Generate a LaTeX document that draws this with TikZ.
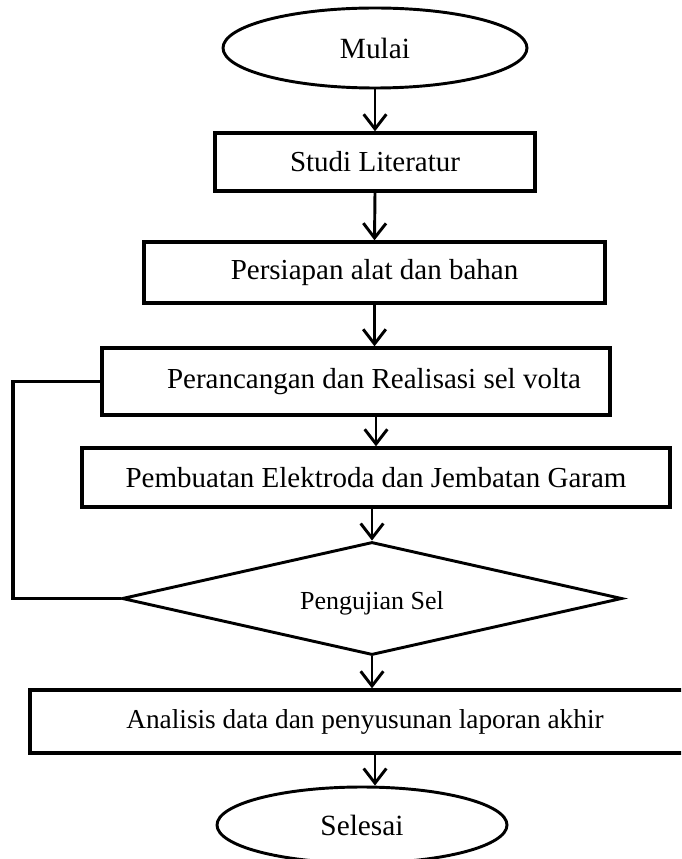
\documentclass[tikz,border=0pt]{standalone}
\usepackage{fontspec}
\setmainfont{Liberation Serif}
\usetikzlibrary{shapes.geometric,arrows.meta}
\tikzset{
  procbox/.style={draw, line width=2.5pt, rectangle, inner sep=0pt, align=center, font=\fontsize{21.75}{26}\selectfont},
  termnode/.style={draw, line width=2.2pt, ellipse, inner sep=0pt, font=\fontsize{22}{26}\selectfont},
  decnode/.style={draw, line width=2.2pt, diamond, inner sep=0pt, font=\fontsize{19.5}{23}\selectfont},
  flow/.style={line width=2.2pt, -{Straight Barb[length=11pt,width=17pt,line width=2.2pt]}},
  loopline/.style={line width=2.5pt, line join=miter}
}
\begin{document}
\begin{tikzpicture}[x=0.75pt,y=-0.75pt]
\useasboundingbox (0,0) rectangle (681,859);
\clip (0,0) rectangle (681,859);
\node[termnode, minimum width=228pt, minimum height=60pt] (mulai) at (375,48) {Mulai};
\node[procbox, minimum width=240pt, minimum height=43.5pt] (studi) at (375,162) {Studi Literatur};
\node[procbox, minimum width=345.75pt, minimum height=45.75pt] (persiapan) at (374.5,272.5) {Persiapan alat dan bahan};
\node[procbox, minimum width=381pt, minimum height=50.25pt] (rancang) at (356,381.5) {\hspace*{27pt}Perancangan dan Realisasi sel volta};
\node[procbox, minimum width=441pt, minimum height=44.25pt] (buat) at (376,477.5) {Pembuatan Elektroda dan Jembatan Garam};
\node[decnode, minimum width=375pt, minimum height=84.75pt] (uji) at (372,598.5) {};
\node[font=\fontsize{19.5}{23}\selectfont] (ujitxt) at (372,603) {Pengujian Sel};
\node[procbox, minimum width=502.5pt, minimum height=47.25pt, font=\fontsize{20.5}{24}\selectfont] (analisis) at (365,721.5) {Analisis data dan penyusunan laporan akhir};
\node[termnode, minimum width=217.5pt, minimum height=57pt] (selesai) at (362,825) {Selesai};
\coordinate (lb) at (13,598.5);
\coordinate (lt) at (13,381.5);
\draw[flow] (mulai.south) -- (studi.north);
\draw[flow] (studi.south) -- (persiapan.north);
\draw[flow] (persiapan.south) -- (persiapan.south |- rancang.north);
\draw[flow] (rancang.south -| buat.north) -- (buat.north);
\draw[flow] (buat.south -| uji.north) -- (uji.north);
\draw[flow] (uji.south) -- (uji.south |- analisis.north);
\draw[flow] (analisis.south -| 375,0) -- (375,0 |- selesai.north);
\draw[loopline] (uji.west) -- (lb) -- (lt) -- (rancang.west);
\end{tikzpicture}
\end{document}
